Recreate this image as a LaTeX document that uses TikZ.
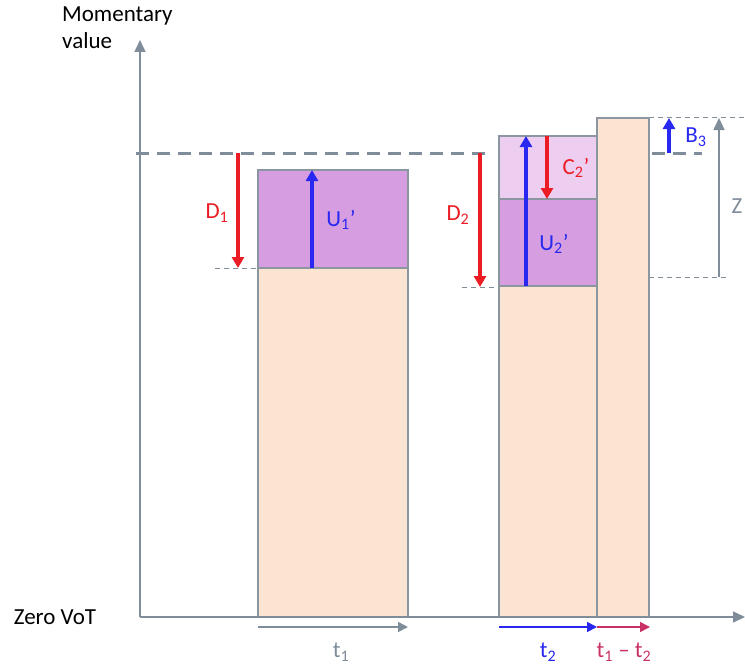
\documentclass[tikz,border=0pt]{standalone}
\usepackage{fontspec}
\setmainfont{Carlito}
\usepackage{tikz}
\usetikzlibrary{arrows.meta,positioning}
\definecolor{axisgray}{RGB}{127,140,153}
\definecolor{barline}{RGB}{140,150,160}
\definecolor{peachfill}{RGB}{252,228,210}
\definecolor{purpledark}{RGB}{214,158,224}
\definecolor{purplelight}{RGB}{237,206,240}
\definecolor{redarrow}{RGB}{235,28,36}
\definecolor{bluearrow}{RGB}{40,40,240}
\definecolor{crimson}{RGB}{200,50,100}

\begin{document}
\begin{tikzpicture}[x=1pt,y=-1pt,every node/.style={font=\fontsize{23}{27}\selectfont,inner sep=0pt}]
\tikzset{bar/.style={draw=barline,line width=1.2pt},
  axis/.style={draw=axisgray,line width=1.6pt,-{Triangle[length=12pt,width=11pt]}},
  levelline/.style={draw=axisgray,line width=3pt,dash pattern=on 13pt off 8pt},
  guide/.style={draw=axisgray,line width=1pt,dash pattern=on 5pt off 4pt},
  redarr/.style={draw=redarrow,line width=3.2pt,-{Triangle[length=11pt,width=12pt]}},
  bluearr/.style={draw=bluearrow,line width=3.2pt,-{Triangle[length=11pt,width=12pt]}},
  spanarr/.style={line width=1.6pt,-{Triangle[length=10pt,width=10pt]}}}
\useasboundingbox (0,0) rectangle (745,669);

\fill[peachfill]   (258,268) rectangle (408,617);
\fill[purpledark]  (258,170) rectangle (408,268);
\fill[peachfill]   (499,286) rectangle (597,617);
\fill[purpledark]  (499,199) rectangle (597,286);
\fill[purplelight] (499,136) rectangle (597,199);
\fill[peachfill]   (597,118) rectangle (649,617);

\coordinate (lvlA) at (136,153);
\coordinate (lvlB) at (492,153);
\coordinate (lvlC) at (652,153);
\coordinate (lvlD) at (702,153);
\draw[levelline] (lvlA) -- (lvlB);
\draw[levelline] (lvlC) -- (lvlD);

\coordinate (g1a) at (215,268); \coordinate (g1b) at (275,268);
\coordinate (g2a) at (462,287); \coordinate (g2b) at (499,287);
\coordinate (g3a) at (640,118); \coordinate (g3b) at (745,118);
\coordinate (g4a) at (649,277); \coordinate (g4b) at (728,277);
\draw[guide] (g1a) -- (g1b);
\draw[guide] (g2a) -- (g2b);
\draw[guide] (g3a) -- (g3b);
\draw[guide] (g4a) -- (g4b);

\draw[bar] (258,268) rectangle (408,617);
\draw[bar] (258,170) rectangle (408,268);
\draw[bar] (499,286) rectangle (597,617);
\draw[bar] (499,199) rectangle (597,286);
\draw[bar] (499,136) rectangle (597,199);
\draw[bar] (597,118) rectangle (649,617);

\coordinate (origin) at (140,617);
\coordinate (ytip)   at (140,40);
\coordinate (xtip)   at (745,617);
\draw[axis] (origin) -- (ytip);
\draw[axis] (origin) -- (xtip);

\node[anchor=north west,align=left] (ylab) at (62,7) {Momentary\\value};
\node (zerolab) at (55,617) {Zero VoT};

\coordinate (d1top) at (238,153); \coordinate (d1bot) at (238,268);
\coordinate (u1bot) at (312,268); \coordinate (u1top) at (312,170);
\coordinate (d2top) at (480,153); \coordinate (d2bot) at (480,287);
\coordinate (u2bot) at (526,286); \coordinate (u2top) at (526,136);
\coordinate (c2top) at (547,136); \coordinate (c2bot) at (547,199);
\coordinate (b3bot) at (669,153); \coordinate (b3top) at (669,118);
\coordinate (zbot)  at (719,277); \coordinate (ztop)  at (719,118);
\draw[redarr]  (d1top) -- (d1bot);
\draw[bluearr] (u1bot) -- (u1top);
\draw[redarr]  (d2top) -- (d2bot);
\draw[bluearr] (u2bot) -- (u2top);
\draw[redarr]  (c2top) -- (c2bot);
\draw[bluearr] (b3bot) -- (b3top);
\draw[axis] (zbot) -- (ztop);

\node[text=redarrow]  (d1lab) at (217,213) {D\textsubscript{1}};
\node[text=bluearrow] (u1lab) at (341,220) {U\textsubscript{1}’};
\node[text=redarrow]  (d2lab) at (458,215) {D\textsubscript{2}};
\node[text=bluearrow] (u2lab) at (554,244) {U\textsubscript{2}’};
\node[text=redarrow]  (c2lab) at (576,168) {C\textsubscript{2}’};
\node[text=bluearrow] (b3lab) at (696,137) {B\textsubscript{3}};
\node[text=axisgray]  (zlab)  at (737,206) {Z};

\coordinate (t1a) at (258,627); \coordinate (t1b) at (408,627);
\coordinate (t2a) at (499,627); \coordinate (t2b) at (597,627);
\coordinate (t3b) at (650,627);
\draw[spanarr,axisgray] (t1a) -- (t1b);
\draw[spanarr,bluearrow] (t2a) -- (t2b);
\draw[spanarr,crimson] (t2b) -- (t3b);
\node[text=axisgray]  (t1lab) at (341,652) {t\textsubscript{1}};
\node[text=bluearrow] (t2lab) at (548,652) {t\textsubscript{2}};
\node[text=crimson]   (t3lab) at (624,652) {t\textsubscript{1} – t\textsubscript{2}};
\end{tikzpicture}
\end{document}
